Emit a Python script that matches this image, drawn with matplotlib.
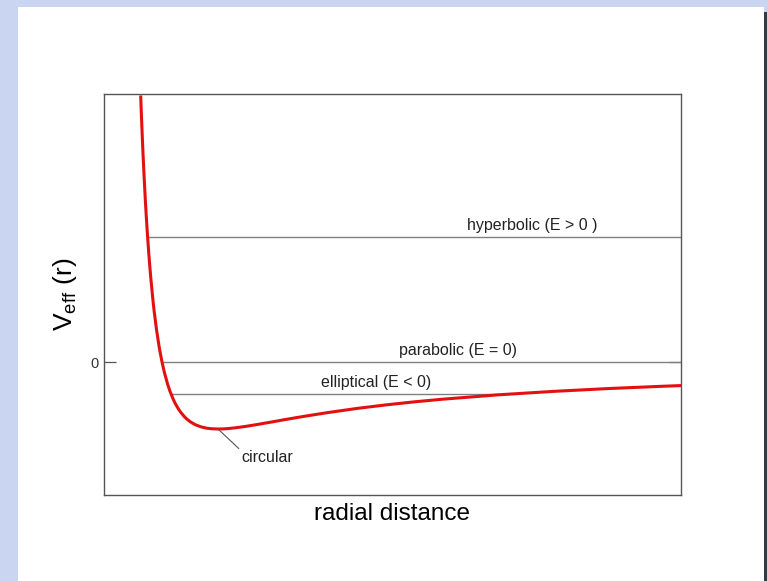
import matplotlib.pyplot as plt
from matplotlib.patches import Rectangle

plt.rcParams['font.family'] = ['Liberation Sans', 'DejaVu Sans']
plt.rcParams['mathtext.fontset'] = 'custom'
plt.rcParams['mathtext.rm'] = 'Liberation Sans'

# effective potential (r in units of the circular radius)
r = [0.31, 0.315, 0.32, 0.325, 0.33, 0.34, 0.35, 0.36, 0.37, 0.38, 0.39, 0.40,
     0.42, 0.43, 0.45, 0.47, 0.48, 0.50, 0.52, 0.55, 0.57, 0.60, 0.62, 0.65,
     0.67, 0.70, 0.72, 0.75, 0.77, 0.80, 0.85, 0.90, 0.95, 1.00, 1.05, 1.10,
     1.15, 1.20, 1.25, 1.35, 1.40, 1.50, 1.60, 1.75, 1.90, 2.00, 2.25, 2.50,
     2.75, 3.00, 3.50, 4.00, 4.50, 5.00, 5.20]
v_eff = [3.955, 3.729, 3.516, 3.314, 3.122, 2.768, 2.449, 2.160, 1.900, 1.662, 1.447, 1.250,
         0.907, 0.757, 0.494, 0.272, 0.174, 0.000, -0.148, -0.331, -0.431, -0.556, -0.625, -0.710,
         -0.757, -0.816, -0.849, -0.889, -0.910, -0.938, -0.969, -0.988, -0.997, -1.000, -0.998, -0.992,
         -0.983, -0.972, -0.960, -0.933, -0.918, -0.889, -0.859, -0.816, -0.776, -0.750, -0.691, -0.640,
         -0.595, -0.556, -0.490, -0.438, -0.395, -0.360, -0.348]

# energy levels
level_names = ['hyperbolic (E > 0 )', 'parabolic (E = 0)', 'elliptical (E < 0)']
level_E = [1.87, 0.0, -0.48]
level_r0 = [0.37, 0.50, 0.58]
level_r1 = [5.20, 5.20, 3.60]
label_r = [3.81, 3.14, 2.41]

circ_r, circ_v = 1.0, -1.0

fig = plt.figure(figsize=(7.67, 5.81), dpi=100)
fig.patch.set_facecolor('#c9d5f1')
fig.add_artist(Rectangle((18 / 767, 0), (764 - 18) / 767, 1 - 7 / 581,
                         transform=fig.transFigure, facecolor='white',
                         edgecolor='none', zorder=-10))
fig.add_artist(Rectangle((764 / 767, 0), 3 / 767, 1 - 12 / 581,
                         transform=fig.transFigure, facecolor='#333a44',
                         edgecolor='none', zorder=-10))

ax = fig.add_axes([104 / 767, 1 - 495 / 581, 577 / 767, 401 / 581])
ax.set_facecolor('white')

for name, e, a, b, lx in zip(level_names, level_E, level_r0, level_r1, label_r):
    ax.plot([a, b], [e, e], color='#808080', lw=1.0, zorder=2)
    ax.text(lx, e + 0.06, name, ha='center', va='bottom', fontsize=11.5, color='#222222')

ax.plot(r, v_eff, color='#e31010', lw=2.2, zorder=3)

ax.annotate('circular', xy=(circ_r, circ_v), xytext=(1.21, -1.42),
            fontsize=11.5, color='#222222', ha='left', va='center',
            arrowprops=dict(arrowstyle='-', color='#555555', lw=0.8,
                            shrinkA=0, shrinkB=0, relpos=(0, 0.9)))

ax.set_xlim(-0.018, 5.134)
ax.set_ylim(-1.985, 4.0)
ax.set_xticks([])
ax.set_yticks([0])
ax.set_yticklabels(['0'])
ax.tick_params(axis='y', direction='in', length=8.5, width=0.9, color='#555555',
               labelsize=10.5, labelcolor='#333333', right=True, pad=4)
for s in ax.spines.values():
    s.set_color('#555555')
    s.set_linewidth(1.0)

ax.set_xlabel('radial distance', fontsize=17.5, labelpad=6)
ax.set_ylabel(r'V$_{\mathrm{eff}}$ (r)', fontsize=19, labelpad=8)

fig.savefig('out.png', dpi=100, facecolor=fig.get_facecolor())
